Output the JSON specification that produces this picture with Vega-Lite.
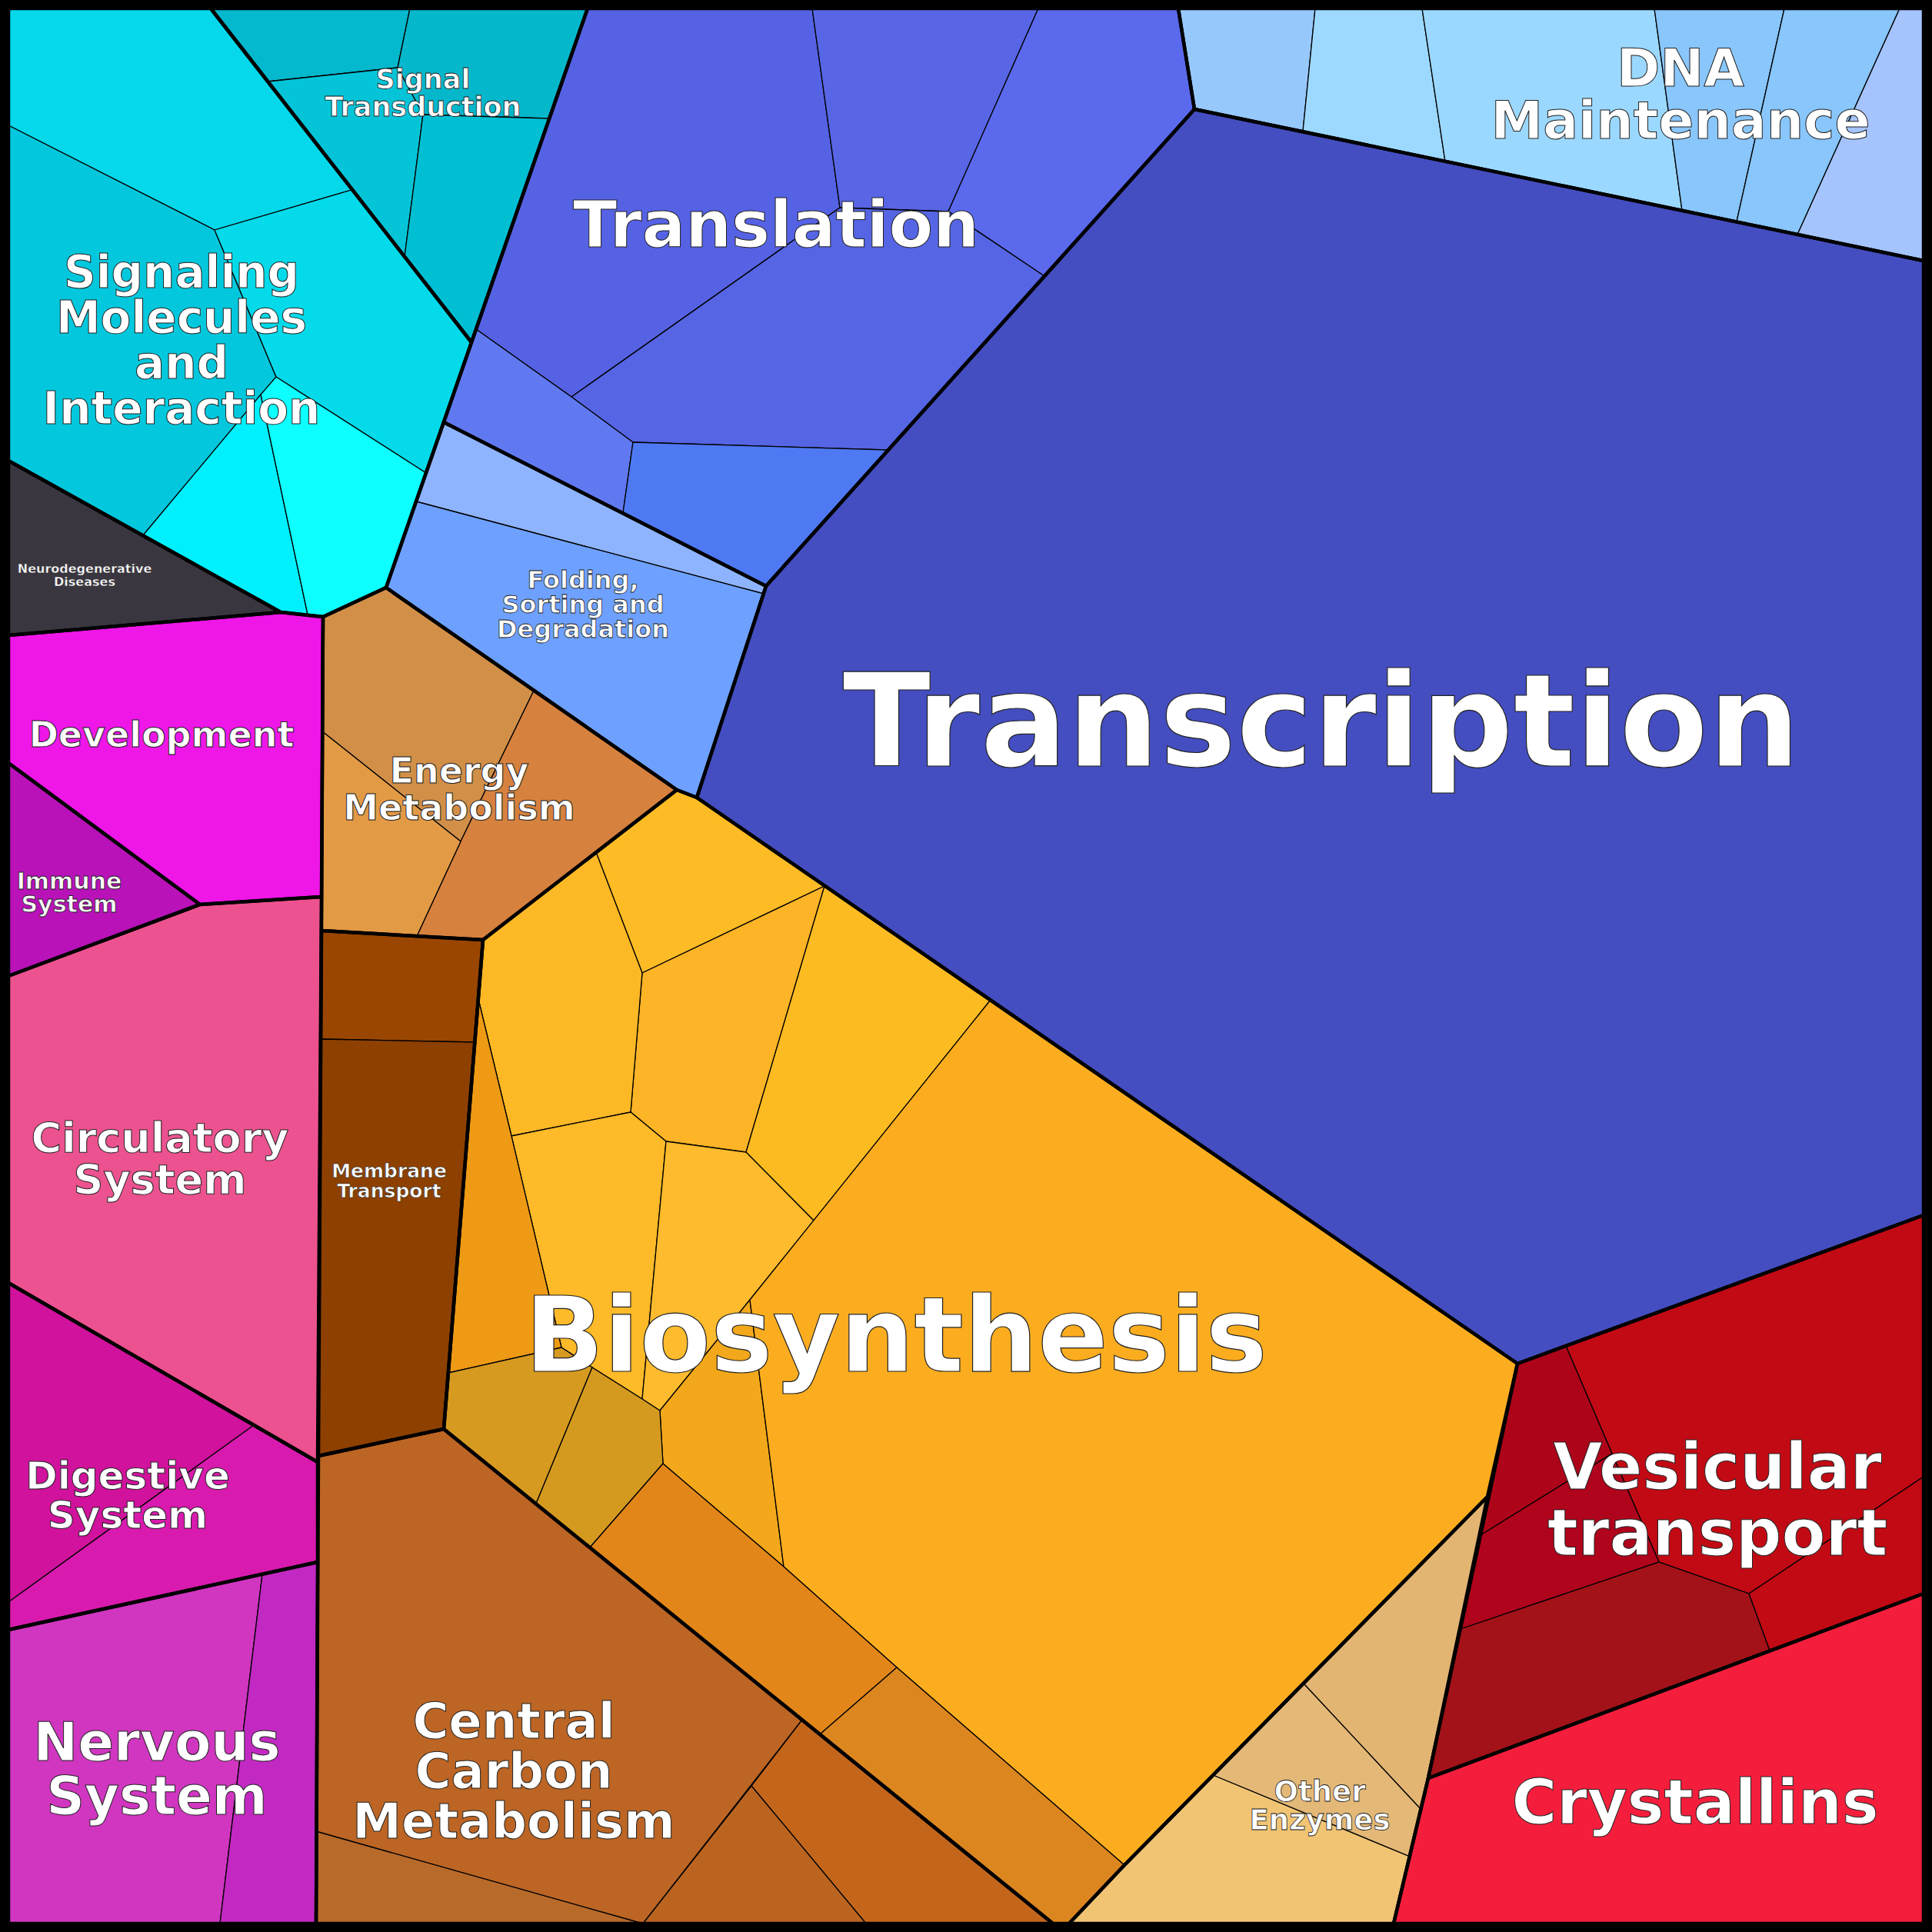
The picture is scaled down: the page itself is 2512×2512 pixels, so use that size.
{
"$schema": "https://vega.github.io/schema/vega-lite/v6.json",
"width": 2512, "height": 2512, "autosize": "none", "padding": 0,
"background": "#000000",
"config": {"view": {"stroke": null}},
"projection": {"type": "identity", "scale": 1, "translate": [0, 0]},
"datasets": {
"cells": [
{"type":"Feature","properties":{"cell":"SM1"},"geometry":{"type":"Polygon","coordinates":[[[11,11],[274,11],[457,247],[279,299],[11,163],[11,11]]]}},
{"type":"Feature","properties":{"cell":"SM2"},"geometry":{"type":"Polygon","coordinates":[[[11,163],[279,299],[359,490],[186,696],[11,599],[11,163]]]}},
{"type":"Feature","properties":{"cell":"SM3"},"geometry":{"type":"Polygon","coordinates":[[[279,299],[457,247],[613,445],[554,615],[359,490],[279,299]]]}},
{"type":"Feature","properties":{"cell":"SM4"},"geometry":{"type":"Polygon","coordinates":[[[186,696],[339,513],[400,799],[365,796],[186,696]]]}},
{"type":"Feature","properties":{"cell":"SM5"},"geometry":{"type":"Polygon","coordinates":[[[339,513],[359,490],[554,615],[502,764],[420,802],[400,799],[339,513]]]}},
{"type":"Feature","properties":{"cell":"ST1"},"geometry":{"type":"Polygon","coordinates":[[[274,11],[533,11],[517,88],[348,106],[274,11]]]}},
{"type":"Feature","properties":{"cell":"ST2"},"geometry":{"type":"Polygon","coordinates":[[[533,11],[764,11],[714,154],[550,149],[517,88],[533,11]]]}},
{"type":"Feature","properties":{"cell":"ST3"},"geometry":{"type":"Polygon","coordinates":[[[348,106],[517,88],[550,149],[526,334],[348,106]]]}},
{"type":"Feature","properties":{"cell":"ST4"},"geometry":{"type":"Polygon","coordinates":[[[550,149],[714,154],[613,445],[526,334],[550,149]]]}},
{"type":"Feature","properties":{"cell":"NEU"},"geometry":{"type":"Polygon","coordinates":[[[11,599],[365,796],[11,826],[11,599]]]}},
{"type":"Feature","properties":{"cell":"DEV"},"geometry":{"type":"Polygon","coordinates":[[[11,826],[365,796],[420,802],[418,1166],[260,1176],[11,992],[11,826]]]}},
{"type":"Feature","properties":{"cell":"IMM"},"geometry":{"type":"Polygon","coordinates":[[[11,992],[260,1176],[11,1269],[11,992]]]}},
{"type":"Feature","properties":{"cell":"CIR"},"geometry":{"type":"Polygon","coordinates":[[[11,1269],[260,1176],[418,1166],[413,1901],[11,1668],[11,1269]]]}},
{"type":"Feature","properties":{"cell":"DIG1"},"geometry":{"type":"Polygon","coordinates":[[[11,1668],[330,1853],[11,2083],[11,1668]]]}},
{"type":"Feature","properties":{"cell":"DIG2"},"geometry":{"type":"Polygon","coordinates":[[[330,1853],[413,1901],[413,2031],[11,2119],[11,2083],[330,1853]]]}},
{"type":"Feature","properties":{"cell":"NER1"},"geometry":{"type":"Polygon","coordinates":[[[11,2119],[341,2047],[286,2501],[11,2501],[11,2119]]]}},
{"type":"Feature","properties":{"cell":"NER2"},"geometry":{"type":"Polygon","coordinates":[[[341,2047],[413,2031],[411,2501],[286,2501],[341,2047]]]}},
{"type":"Feature","properties":{"cell":"EN1"},"geometry":{"type":"Polygon","coordinates":[[[420,802],[502,764],[694,898],[599,1094],[419,951],[420,802]]]}},
{"type":"Feature","properties":{"cell":"EN2"},"geometry":{"type":"Polygon","coordinates":[[[694,898],[880,1027],[628,1222],[542,1217],[599,1094],[694,898]]]}},
{"type":"Feature","properties":{"cell":"EN3"},"geometry":{"type":"Polygon","coordinates":[[[419,951],[599,1094],[542,1217],[418,1210],[419,951]]]}},
{"type":"Feature","properties":{"cell":"MEM1"},"geometry":{"type":"Polygon","coordinates":[[[418,1210],[628,1222],[617,1355],[418,1351],[418,1210]]]}},
{"type":"Feature","properties":{"cell":"MEM2"},"geometry":{"type":"Polygon","coordinates":[[[418,1351],[617,1355],[577,1858],[414,1893],[418,1351]]]}},
{"type":"Feature","properties":{"cell":"CCM1"},"geometry":{"type":"Polygon","coordinates":[[[411,2381],[836,2501],[411,2501],[411,2381]]]}},
{"type":"Feature","properties":{"cell":"CCM2"},"geometry":{"type":"Polygon","coordinates":[[[414,1893],[577,1858],[1043,2236],[836,2501],[411,2381],[414,1893]]]}},
{"type":"Feature","properties":{"cell":"CCM3"},"geometry":{"type":"Polygon","coordinates":[[[1043,2236],[1369,2501],[1126,2501],[977,2322],[1043,2236]]]}},
{"type":"Feature","properties":{"cell":"CCM4"},"geometry":{"type":"Polygon","coordinates":[[[977,2322],[1126,2501],[836,2501],[977,2322]]]}},
{"type":"Feature","properties":{"cell":"BIO1"},"geometry":{"type":"Polygon","coordinates":[[[775,1108],[880,1027],[906,1037],[1072,1152],[835,1265],[775,1108]]]}},
{"type":"Feature","properties":{"cell":"BIO2"},"geometry":{"type":"Polygon","coordinates":[[[835,1265],[1072,1152],[970,1498],[866,1484],[837,1460],[820,1446],[835,1265]]]}},
{"type":"Feature","properties":{"cell":"BIO3"},"geometry":{"type":"Polygon","coordinates":[[[1072,1152],[1288,1300],[1058,1587],[970,1498],[1072,1152]]]}},
{"type":"Feature","properties":{"cell":"BIO4"},"geometry":{"type":"Polygon","coordinates":[[[628,1222],[775,1108],[835,1265],[820,1446],[665,1477],[622,1299],[628,1222]]]}},
{"type":"Feature","properties":{"cell":"BIO5"},"geometry":{"type":"Polygon","coordinates":[[[665,1477],[820,1446],[837,1460],[866,1484],[835,1819],[770,1778],[730,1752],[665,1477]]]}},
{"type":"Feature","properties":{"cell":"BIO6"},"geometry":{"type":"Polygon","coordinates":[[[622,1299],[665,1477],[730,1752],[583,1785],[622,1299]]]}},
{"type":"Feature","properties":{"cell":"BIO7"},"geometry":{"type":"Polygon","coordinates":[[[866,1484],[970,1498],[1058,1587],[975,1690],[858,1834],[835,1819],[866,1484]]]}},
{"type":"Feature","properties":{"cell":"BIO8"},"geometry":{"type":"Polygon","coordinates":[[[975,1690],[1019,2037],[862,1903],[858,1834],[975,1690]]]}},
{"type":"Feature","properties":{"cell":"BIO9"},"geometry":{"type":"Polygon","coordinates":[[[1288,1300],[1973,1773],[1934,1946],[1462,2425],[1166,2168],[1019,2037],[975,1690],[1288,1300]]]}},
{"type":"Feature","properties":{"cell":"BIO10"},"geometry":{"type":"Polygon","coordinates":[[[583,1785],[730,1752],[770,1778],[697,1955],[577,1858],[583,1785]]]}},
{"type":"Feature","properties":{"cell":"BIO11"},"geometry":{"type":"Polygon","coordinates":[[[770,1778],[835,1819],[858,1834],[862,1903],[767,2012],[697,1955],[770,1778]]]}},
{"type":"Feature","properties":{"cell":"BIO12"},"geometry":{"type":"Polygon","coordinates":[[[862,1903],[1019,2037],[1166,2168],[1066,2255],[767,2012],[862,1903]]]}},
{"type":"Feature","properties":{"cell":"BIO13"},"geometry":{"type":"Polygon","coordinates":[[[1166,2168],[1462,2425],[1390,2501],[1369,2501],[1066,2255],[1166,2168]]]}},
{"type":"Feature","properties":{"cell":"FOL1"},"geometry":{"type":"Polygon","coordinates":[[[577,549],[996,762],[993,772],[541,652],[577,549]]]}},
{"type":"Feature","properties":{"cell":"FOL2"},"geometry":{"type":"Polygon","coordinates":[[[541,652],[993,772],[906,1037],[880,1027],[502,764],[541,652]]]}},
{"type":"Feature","properties":{"cell":"TRA1"},"geometry":{"type":"Polygon","coordinates":[[[764,11],[1056,11],[1092,270],[743,516],[619,428],[764,11]]]}},
{"type":"Feature","properties":{"cell":"TRA2"},"geometry":{"type":"Polygon","coordinates":[[[1056,11],[1350,11],[1233,275],[1092,270],[1056,11]]]}},
{"type":"Feature","properties":{"cell":"TRA3"},"geometry":{"type":"Polygon","coordinates":[[[1350,11],[1532,11],[1553,142],[1358,359],[1233,275],[1350,11]]]}},
{"type":"Feature","properties":{"cell":"TRA4"},"geometry":{"type":"Polygon","coordinates":[[[743,516],[1092,270],[1233,275],[1358,359],[1155,585],[823,575],[743,516]]]}},
{"type":"Feature","properties":{"cell":"TRA5"},"geometry":{"type":"Polygon","coordinates":[[[619,428],[743,516],[823,575],[810,667],[577,549],[619,428]]]}},
{"type":"Feature","properties":{"cell":"TRA6"},"geometry":{"type":"Polygon","coordinates":[[[823,575],[1155,585],[996,762],[810,667],[823,575]]]}},
{"type":"Feature","properties":{"cell":"TRC"},"geometry":{"type":"Polygon","coordinates":[[[996,762],[1553,142],[2501,339],[2501,1580],[1973,1773],[906,1037],[996,762]]]}},
{"type":"Feature","properties":{"cell":"DNA1"},"geometry":{"type":"Polygon","coordinates":[[[1532,11],[1710,11],[1694,171],[1553,142],[1532,11]]]}},
{"type":"Feature","properties":{"cell":"DNA2"},"geometry":{"type":"Polygon","coordinates":[[[1710,11],[1849,11],[1879,210],[1694,171],[1710,11]]]}},
{"type":"Feature","properties":{"cell":"DNA3"},"geometry":{"type":"Polygon","coordinates":[[[1849,11],[2151,11],[2187,274],[1879,210],[1849,11]]]}},
{"type":"Feature","properties":{"cell":"DNA4"},"geometry":{"type":"Polygon","coordinates":[[[2151,11],[2320,11],[2258,288],[2187,274],[2151,11]]]}},
{"type":"Feature","properties":{"cell":"DNA5"},"geometry":{"type":"Polygon","coordinates":[[[2320,11],[2470,11],[2337,305],[2258,288],[2320,11]]]}},
{"type":"Feature","properties":{"cell":"DNA6"},"geometry":{"type":"Polygon","coordinates":[[[2470,11],[2501,11],[2501,339],[2337,305],[2470,11]]]}},
{"type":"Feature","properties":{"cell":"VES1"},"geometry":{"type":"Polygon","coordinates":[[[2036,1750],[2501,1580],[2501,1920],[2274,2072],[2157,2031],[2096,1890],[2036,1750]]]}},
{"type":"Feature","properties":{"cell":"VES2"},"geometry":{"type":"Polygon","coordinates":[[[1973,1773],[2036,1750],[2096,1890],[1925,1996],[1973,1773]]]}},
{"type":"Feature","properties":{"cell":"VES3"},"geometry":{"type":"Polygon","coordinates":[[[1925,1996],[2096,1890],[2157,2031],[1899,2118],[1925,1996]]]}},
{"type":"Feature","properties":{"cell":"VES4"},"geometry":{"type":"Polygon","coordinates":[[[1899,2118],[2157,2031],[2274,2072],[2301,2146],[1857,2312],[1899,2118]]]}},
{"type":"Feature","properties":{"cell":"VES5"},"geometry":{"type":"Polygon","coordinates":[[[2274,2072],[2501,1920],[2501,2072],[2301,2146],[2274,2072]]]}},
{"type":"Feature","properties":{"cell":"CRY"},"geometry":{"type":"Polygon","coordinates":[[[1857,2312],[2501,2072],[2501,2501],[1812,2501],[1857,2312]]]}},
{"type":"Feature","properties":{"cell":"OE1"},"geometry":{"type":"Polygon","coordinates":[[[1934,1946],[1857,2312],[1847,2352],[1695,2189],[1934,1946]]]}},
{"type":"Feature","properties":{"cell":"OE2"},"geometry":{"type":"Polygon","coordinates":[[[1695,2189],[1847,2352],[1833,2414],[1577,2308],[1695,2189]]]}},
{"type":"Feature","properties":{"cell":"OE3"},"geometry":{"type":"Polygon","coordinates":[[[1577,2308],[1833,2414],[1812,2501],[1390,2501],[1462,2425],[1577,2308]]]}}
],
"groups": [
{"type":"Feature","properties":{"group":"Signaling Molecules and Interaction"},"geometry":{"type":"Polygon","coordinates":[[[11,11],[274,11],[613,445],[502,764],[420,802],[365,796],[11,599],[11,11]]]}},
{"type":"Feature","properties":{"group":"Signal Transduction"},"geometry":{"type":"Polygon","coordinates":[[[274,11],[764,11],[613,445],[274,11]]]}},
{"type":"Feature","properties":{"group":"Neurodegenerative Diseases"},"geometry":{"type":"Polygon","coordinates":[[[11,599],[365,796],[11,826],[11,599]]]}},
{"type":"Feature","properties":{"group":"Development"},"geometry":{"type":"Polygon","coordinates":[[[11,826],[365,796],[420,802],[418,1166],[260,1176],[11,992],[11,826]]]}},
{"type":"Feature","properties":{"group":"Immune System"},"geometry":{"type":"Polygon","coordinates":[[[11,992],[260,1176],[11,1269],[11,992]]]}},
{"type":"Feature","properties":{"group":"Circulatory System"},"geometry":{"type":"Polygon","coordinates":[[[11,1269],[260,1176],[418,1166],[413,1901],[11,1668],[11,1269]]]}},
{"type":"Feature","properties":{"group":"Digestive System"},"geometry":{"type":"Polygon","coordinates":[[[11,1668],[413,1901],[413,2031],[11,2119],[11,1668]]]}},
{"type":"Feature","properties":{"group":"Nervous System"},"geometry":{"type":"Polygon","coordinates":[[[11,2119],[413,2031],[411,2501],[11,2501],[11,2119]]]}},
{"type":"Feature","properties":{"group":"Energy Metabolism"},"geometry":{"type":"Polygon","coordinates":[[[420,802],[502,764],[880,1027],[628,1222],[418,1210],[420,802]]]}},
{"type":"Feature","properties":{"group":"Membrane Transport"},"geometry":{"type":"Polygon","coordinates":[[[418,1210],[628,1222],[577,1858],[414,1893],[418,1210]]]}},
{"type":"Feature","properties":{"group":"Central Carbon Metabolism"},"geometry":{"type":"Polygon","coordinates":[[[414,1893],[577,1858],[1369,2501],[411,2501],[414,1893]]]}},
{"type":"Feature","properties":{"group":"Biosynthesis"},"geometry":{"type":"Polygon","coordinates":[[[628,1222],[880,1027],[906,1037],[1973,1773],[1934,1946],[1462,2425],[1390,2501],[1369,2501],[577,1858],[628,1222]]]}},
{"type":"Feature","properties":{"group":"Folding, Sorting and Degradation"},"geometry":{"type":"Polygon","coordinates":[[[577,549],[996,762],[906,1037],[880,1027],[502,764],[577,549]]]}},
{"type":"Feature","properties":{"group":"Translation"},"geometry":{"type":"Polygon","coordinates":[[[764,11],[1532,11],[1553,142],[996,762],[577,549],[764,11]]]}},
{"type":"Feature","properties":{"group":"Transcription"},"geometry":{"type":"Polygon","coordinates":[[[996,762],[1553,142],[2501,339],[2501,1580],[1973,1773],[906,1037],[996,762]]]}},
{"type":"Feature","properties":{"group":"DNA Maintenance"},"geometry":{"type":"Polygon","coordinates":[[[1532,11],[2501,11],[2501,339],[1553,142],[1532,11]]]}},
{"type":"Feature","properties":{"group":"Vesicular transport"},"geometry":{"type":"Polygon","coordinates":[[[1973,1773],[2501,1580],[2501,2072],[1857,2312],[1973,1773]]]}},
{"type":"Feature","properties":{"group":"Crystallins"},"geometry":{"type":"Polygon","coordinates":[[[1857,2312],[2501,2072],[2501,2501],[1812,2501],[1857,2312]]]}},
{"type":"Feature","properties":{"group":"Other Enzymes"},"geometry":{"type":"Polygon","coordinates":[[[1934,1946],[1857,2312],[1812,2501],[1390,2501],[1462,2425],[1934,1946]]]}}
],
"labels": [
{"id":"TRC","label":"Transcription","x":1718,"y":946},
{"id":"BIO","label":"Biosynthesis","x":1165,"y":1742},
{"id":"TRA","label":"Translation","x":1009,"y":296},
{"id":"DNA","label":"DNA\nMaintenance","x":2185,"y":92},
{"id":"SM","label":"Signaling\nMolecules\nand\nInteraction","x":236,"y":357},
{"id":"ST","label":"Signal\nTransduction","x":550,"y":103.5},
{"id":"FOL","label":"Folding,\nSorting and\nDegradation","x":758,"y":754.5},
{"id":"NEU","label":"Neurodegenerative\nDiseases","x":110,"y":740},
{"id":"DEV","label":"Development","x":210,"y":957},
{"id":"IMM","label":"Immune\nSystem","x":90,"y":1147},
{"id":"CIR","label":"Circulatory\nSystem","x":208,"y":1482},
{"id":"DIG","label":"Digestive\nSystem","x":166,"y":1921},
{"id":"NER","label":"Nervous\nSystem","x":204,"y":2268},
{"id":"CCM","label":"Central\nCarbon\nMetabolism","x":668,"y":2241},
{"id":"EN","label":"Energy\nMetabolism","x":597,"y":1004},
{"id":"MEM","label":"Membrane\nTransport","x":506,"y":1522.5},
{"id":"OE","label":"Other\nEnzymes","x":1716,"y":2331},
{"id":"VES","label":"Vesicular\ntransport","x":2233,"y":1911},
{"id":"CRY","label":"Crystallins","x":2204,"y":2347}
]
},
"layer": [
{"data": {"name": "cells"},
 "mark": {"type": "geoshape", "stroke": "#000000", "strokeWidth": 1.3},
 "encoding": {"fill": {"field": "properties.cell", "type": "nominal", "legend": null,
   "scale": {"domain": ["SM1","SM2","SM3","SM4","SM5","ST1","ST2","ST3","ST4","NEU","DEV","IMM","CIR","DIG1","DIG2","NER1","NER2","EN1","EN2","EN3","MEM1","MEM2","CCM1","CCM2","CCM3","CCM4","BIO1","BIO2","BIO3","BIO4","BIO5","BIO6","BIO7","BIO8","BIO9","BIO10","BIO11","BIO12","BIO13","FOL1","FOL2","TRA1","TRA2","TRA3","TRA4","TRA5","TRA6","TRC","DNA1","DNA2","DNA3","DNA4","DNA5","DNA6","VES1","VES2","VES3","VES4","VES5","CRY","OE1","OE2","OE3"],
   "range": ["#04d8ea","#03c8dd","#04dae9","#00f0fe","#0dffff","#04b8cd","#05b7cb","#05c4d8","#00bfd3","#3a3640","#ef16e8","#b812b8","#ec528f","#d0129c","#d81aae","#d036c0","#c229c2","#d18f48","#d6813e","#e39a45","#9a4600","#8d4000","#b86a2a","#bc6524","#c3661c","#bb6420","#fdbb25","#fdb426","#fdbb22","#fdb925","#feba28","#ee9a15","#fdbb2d","#f2a81a","#fbad1f","#d69a20","#d49a1f","#e2861a","#dc8620","#8fb4ff","#6ea1ff","#5662e4","#5865e5","#5b69ed","#5565e3","#6079f1","#4f79f3","#444ec0","#97c8fb","#9dd9ff","#9bd8ff","#89c6fb","#88c6fb","#a5c3fd","#c20a14","#ae0419","#b0031c","#a31219","#c10a14","#f41e3c","#e2b573","#e4b877","#f1c474"]}}}},
{"data": {"name": "groups"},
 "mark": {"type": "geoshape", "filled": false, "stroke": "#000000", "strokeWidth": 4.5, "strokeJoin": "round"},
 "encoding": {}},
{"data": {"name": "labels"}, "transform": [{"filter": "datum.id === 'TRC'"}],
 "mark": {"type": "text", "font": "DejaVu Sans", "fontWeight": "bold", "fontSize": 168, "lineHeight": 168, "lineBreak": "\n", "align": "center", "baseline": "middle", "fill": "#ffffff", "stroke": "#222222", "strokeWidth": 1.2},
 "encoding": {"longitude": {"field": "x", "type": "quantitative"}, "latitude": {"field": "y", "type": "quantitative"}, "text": {"field": "label"}}},
{"data": {"name": "labels"}, "transform": [{"filter": "datum.id === 'BIO'"}],
 "mark": {"type": "text", "font": "DejaVu Sans", "fontWeight": "bold", "fontSize": 135, "lineHeight": 135, "lineBreak": "\n", "align": "center", "baseline": "middle", "fill": "#ffffff", "stroke": "#222222", "strokeWidth": 1.2},
 "encoding": {"longitude": {"field": "x", "type": "quantitative"}, "latitude": {"field": "y", "type": "quantitative"}, "text": {"field": "label"}}},
{"data": {"name": "labels"}, "transform": [{"filter": "datum.id === 'TRA'"}],
 "mark": {"type": "text", "font": "DejaVu Sans", "fontWeight": "bold", "fontSize": 84, "lineHeight": 84, "lineBreak": "\n", "align": "center", "baseline": "middle", "fill": "#ffffff", "stroke": "#222222", "strokeWidth": 1},
 "encoding": {"longitude": {"field": "x", "type": "quantitative"}, "latitude": {"field": "y", "type": "quantitative"}, "text": {"field": "label"}}},
{"data": {"name": "labels"}, "transform": [{"filter": "datum.id === 'DNA'"}],
 "mark": {"type": "text", "font": "DejaVu Sans", "fontWeight": "bold", "fontSize": 68, "lineHeight": 68, "lineBreak": "\n", "align": "center", "baseline": "middle", "fill": "#ffffff", "stroke": "#222222", "strokeWidth": 1},
 "encoding": {"longitude": {"field": "x", "type": "quantitative"}, "latitude": {"field": "y", "type": "quantitative"}, "text": {"field": "label"}}},
{"data": {"name": "labels"}, "transform": [{"filter": "datum.id === 'SM'"}],
 "mark": {"type": "text", "font": "DejaVu Sans", "fontWeight": "bold", "fontSize": 58, "lineHeight": 59, "lineBreak": "\n", "align": "center", "baseline": "middle", "fill": "#ffffff", "stroke": "#222222", "strokeWidth": 1},
 "encoding": {"longitude": {"field": "x", "type": "quantitative"}, "latitude": {"field": "y", "type": "quantitative"}, "text": {"field": "label"}}},
{"data": {"name": "labels"}, "transform": [{"filter": "datum.id === 'ST'"}],
 "mark": {"type": "text", "font": "DejaVu Sans", "fontWeight": "bold", "fontSize": 35, "lineHeight": 36, "lineBreak": "\n", "align": "center", "baseline": "middle", "fill": "#ffffff", "stroke": "#222222", "strokeWidth": 0.8},
 "encoding": {"longitude": {"field": "x", "type": "quantitative"}, "latitude": {"field": "y", "type": "quantitative"}, "text": {"field": "label"}}},
{"data": {"name": "labels"}, "transform": [{"filter": "datum.id === 'FOL'"}],
 "mark": {"type": "text", "font": "DejaVu Sans", "fontWeight": "bold", "fontSize": 32, "lineHeight": 32, "lineBreak": "\n", "align": "center", "baseline": "middle", "fill": "#ffffff", "stroke": "#222222", "strokeWidth": 0.8},
 "encoding": {"longitude": {"field": "x", "type": "quantitative"}, "latitude": {"field": "y", "type": "quantitative"}, "text": {"field": "label"}}},
{"data": {"name": "labels"}, "transform": [{"filter": "datum.id === 'NEU'"}],
 "mark": {"type": "text", "font": "DejaVu Sans", "fontWeight": "bold", "fontSize": 16, "lineHeight": 17, "lineBreak": "\n", "align": "center", "baseline": "middle", "fill": "#ffffff", "stroke": "#222222", "strokeWidth": 0.4},
 "encoding": {"longitude": {"field": "x", "type": "quantitative"}, "latitude": {"field": "y", "type": "quantitative"}, "text": {"field": "label"}}},
{"data": {"name": "labels"}, "transform": [{"filter": "datum.id === 'DEV'"}],
 "mark": {"type": "text", "font": "DejaVu Sans", "fontWeight": "bold", "fontSize": 46, "lineHeight": 46, "lineBreak": "\n", "align": "center", "baseline": "middle", "fill": "#ffffff", "stroke": "#222222", "strokeWidth": 1},
 "encoding": {"longitude": {"field": "x", "type": "quantitative"}, "latitude": {"field": "y", "type": "quantitative"}, "text": {"field": "label"}}},
{"data": {"name": "labels"}, "transform": [{"filter": "datum.id === 'IMM'"}],
 "mark": {"type": "text", "font": "DejaVu Sans", "fontWeight": "bold", "fontSize": 30, "lineHeight": 30, "lineBreak": "\n", "align": "center", "baseline": "middle", "fill": "#ffffff", "stroke": "#222222", "strokeWidth": 0.8},
 "encoding": {"longitude": {"field": "x", "type": "quantitative"}, "latitude": {"field": "y", "type": "quantitative"}, "text": {"field": "label"}}},
{"data": {"name": "labels"}, "transform": [{"filter": "datum.id === 'CIR'"}],
 "mark": {"type": "text", "font": "DejaVu Sans", "fontWeight": "bold", "fontSize": 54, "lineHeight": 54, "lineBreak": "\n", "align": "center", "baseline": "middle", "fill": "#ffffff", "stroke": "#222222", "strokeWidth": 1},
 "encoding": {"longitude": {"field": "x", "type": "quantitative"}, "latitude": {"field": "y", "type": "quantitative"}, "text": {"field": "label"}}},
{"data": {"name": "labels"}, "transform": [{"filter": "datum.id === 'DIG'"}],
 "mark": {"type": "text", "font": "DejaVu Sans", "fontWeight": "bold", "fontSize": 50, "lineHeight": 51, "lineBreak": "\n", "align": "center", "baseline": "middle", "fill": "#ffffff", "stroke": "#222222", "strokeWidth": 1},
 "encoding": {"longitude": {"field": "x", "type": "quantitative"}, "latitude": {"field": "y", "type": "quantitative"}, "text": {"field": "label"}}},
{"data": {"name": "labels"}, "transform": [{"filter": "datum.id === 'NER'"}],
 "mark": {"type": "text", "font": "DejaVu Sans", "fontWeight": "bold", "fontSize": 69, "lineHeight": 69.5, "lineBreak": "\n", "align": "center", "baseline": "middle", "fill": "#ffffff", "stroke": "#222222", "strokeWidth": 1},
 "encoding": {"longitude": {"field": "x", "type": "quantitative"}, "latitude": {"field": "y", "type": "quantitative"}, "text": {"field": "label"}}},
{"data": {"name": "labels"}, "transform": [{"filter": "datum.id === 'CCM'"}],
 "mark": {"type": "text", "font": "DejaVu Sans", "fontWeight": "bold", "fontSize": 64, "lineHeight": 65, "lineBreak": "\n", "align": "center", "baseline": "middle", "fill": "#ffffff", "stroke": "#222222", "strokeWidth": 1},
 "encoding": {"longitude": {"field": "x", "type": "quantitative"}, "latitude": {"field": "y", "type": "quantitative"}, "text": {"field": "label"}}},
{"data": {"name": "labels"}, "transform": [{"filter": "datum.id === 'EN'"}],
 "mark": {"type": "text", "font": "DejaVu Sans", "fontWeight": "bold", "fontSize": 46, "lineHeight": 47.5, "lineBreak": "\n", "align": "center", "baseline": "middle", "fill": "#ffffff", "stroke": "#222222", "strokeWidth": 1},
 "encoding": {"longitude": {"field": "x", "type": "quantitative"}, "latitude": {"field": "y", "type": "quantitative"}, "text": {"field": "label"}}},
{"data": {"name": "labels"}, "transform": [{"filter": "datum.id === 'MEM'"}],
 "mark": {"type": "text", "font": "DejaVu Sans", "fontWeight": "bold", "fontSize": 25, "lineHeight": 26, "lineBreak": "\n", "align": "center", "baseline": "middle", "fill": "#ffffff", "stroke": "#222222", "strokeWidth": 0.6},
 "encoding": {"longitude": {"field": "x", "type": "quantitative"}, "latitude": {"field": "y", "type": "quantitative"}, "text": {"field": "label"}}},
{"data": {"name": "labels"}, "transform": [{"filter": "datum.id === 'OE'"}],
 "mark": {"type": "text", "font": "DejaVu Sans", "fontWeight": "bold", "fontSize": 37, "lineHeight": 37, "lineBreak": "\n", "align": "center", "baseline": "middle", "fill": "#ffffff", "stroke": "#222222", "strokeWidth": 0.8},
 "encoding": {"longitude": {"field": "x", "type": "quantitative"}, "latitude": {"field": "y", "type": "quantitative"}, "text": {"field": "label"}}},
{"data": {"name": "labels"}, "transform": [{"filter": "datum.id === 'VES'"}],
 "mark": {"type": "text", "font": "DejaVu Sans", "fontWeight": "bold", "fontSize": 83, "lineHeight": 85.5, "lineBreak": "\n", "align": "center", "baseline": "middle", "fill": "#ffffff", "stroke": "#222222", "strokeWidth": 1},
 "encoding": {"longitude": {"field": "x", "type": "quantitative"}, "latitude": {"field": "y", "type": "quantitative"}, "text": {"field": "label"}}},
{"data": {"name": "labels"}, "transform": [{"filter": "datum.id === 'CRY'"}],
 "mark": {"type": "text", "font": "DejaVu Sans", "fontWeight": "bold", "fontSize": 80, "lineHeight": 80, "lineBreak": "\n", "align": "center", "baseline": "middle", "fill": "#ffffff", "stroke": "#222222", "strokeWidth": 1},
 "encoding": {"longitude": {"field": "x", "type": "quantitative"}, "latitude": {"field": "y", "type": "quantitative"}, "text": {"field": "label"}}}
]
}
